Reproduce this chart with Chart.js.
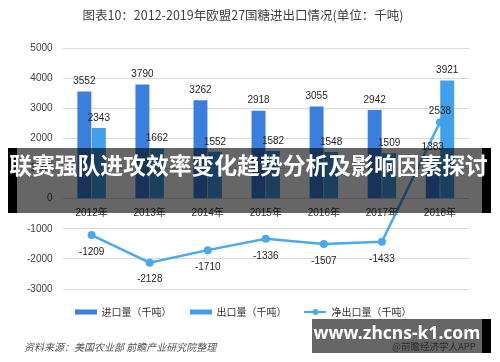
<!DOCTYPE html>
<html>
<head>
<meta charset="utf-8">
<script src="https://cdn.jsdelivr.net/npm/chart.js@4.4.0/dist/chart.umd.min.js"></script>
<style>
body { margin: 0; background: #fff; }
#wrap { position: relative; width: 500px; height: 362px; overflow: hidden; }
.src { position: absolute; left: 24px; top: 339px; font: italic 10px "Noto Sans CJK SC", sans-serif; color: #555; white-space: nowrap; }
.blk { position: absolute; background: #000; }
.dim { position: absolute; background: rgba(0, 0, 0, 0.6); }
.band-text { position: absolute; left: 0; top: 148px; width: 497px; height: 65px; line-height: 65px; text-align: center;
  font: bold 22.8px "Noto Sans CJK SC", sans-serif; color: #fff; white-space: nowrap; }
.badge-text { position: absolute; left: 312px; top: 320px; width: 170px; text-align: center; line-height: 28px;
  font: bold 17.5px "Noto Sans", sans-serif; color: #fff; white-space: nowrap; }
.app { position: absolute; left: 392px; top: 339px; font: 9.5px "Noto Sans CJK SC", sans-serif; color: #2a2a2a; white-space: nowrap; }
</style>
</head>
<body>
<div id="wrap">
  <canvas id="myChart" width="500" height="362"></canvas>
  <div class="src">资料来源：美国农业部 前瞻产业研究院整理</div>
  <div class="blk" style="left:8px;top:148px;width:9px;height:65px"></div>
  <div class="dim" style="left:17px;top:148px;width:465px;height:65px"></div>
  <div class="blk" style="left:482px;top:148px;width:9px;height:65px"></div>
  <div class="band-text">联赛强队进攻效率变化趋势分析及影响因素探讨</div>
  <div class="dim" style="left:312px;top:319px;width:170px;height:34px"></div>
  <div class="blk" style="left:482px;top:319px;width:9px;height:34px"></div>
  <div class="app">@前瞻经济学人APP</div>
  <div class="badge-text">www.zhcns-k1.com</div>
</div>
<script>
// data
const years = ['2012年', '2013年', '2014年', '2015年', '2016年', '2017年', '2018年'];
const imports = [3552, 3790, 3262, 2918, 3055, 2942, 1383];
const exportsVol = [2343, 1662, 1552, 1582, 1548, 1509, 3921];
const netExports = [-1209, -2128, -1710, -1336, -1507, -1433, 2538];
const yTicks = [-3000, -2000, -1000, 0, 1000, 2000, 3000, 4000, 5000];

const importColor = '#3b7fde';
const exportColor = '#41a0ec';
const lineColor = '#48a8f0';
const fontFamily = '"Liberation Sans", "Noto Sans CJK SC", sans-serif';

// small legend markers (bar swatch and line with dot)
function marker(kind, color) {
    const c = document.createElement('canvas');
    c.width = 22; c.height = 8;
    const g = c.getContext('2d');
    g.fillStyle = color;
    g.strokeStyle = color;
    if (kind === 'bar') {
        g.fillRect(0, 1.5, 22, 5);
    } else {
        g.lineWidth = 2;
        g.beginPath();
        g.moveTo(0, 4);
        g.lineTo(22, 4);
        g.stroke();
        g.beginPath();
        g.arc(11, 4, 3, 0, Math.PI * 2);
        g.fill();
    }
    return c;
}

// draws values above bars and next to line points
const valueLabels = {
    id: 'valueLabels',
    afterDatasetsDraw(chart) {
        const ctx = chart.ctx;
        ctx.save();
        ctx.font = '10px ' + fontFamily;
        ctx.fillStyle = '#262626';
        ctx.textAlign = 'center';
        ctx.textBaseline = 'middle';
        chart.data.datasets.forEach((ds, i) => {
            const meta = chart.getDatasetMeta(i);
            meta.data.forEach((el, j) => {
                const v = ds.data[j];
                let y;
                if (ds.type === 'line') {
                    y = v < 0 ? el.y + 17 : el.y - 11;
                } else {
                    y = el.y - 10;
                }
                ctx.fillText(String(v), el.x, y);
            });
        });
        ctx.restore();
    }
};

const ctx = document.getElementById('myChart').getContext('2d');

new Chart(ctx, {
    type: 'bar',
    data: {
        labels: years,
        datasets: [
            {
                label: '进口量（千吨）',
                data: imports,
                backgroundColor: importColor,
                categoryPercentage: 0.5,
                barPercentage: 0.96,
                pointStyle: marker('bar', importColor)
            },
            {
                label: '出口量（千吨）',
                data: exportsVol,
                backgroundColor: exportColor,
                categoryPercentage: 0.5,
                barPercentage: 0.96,
                pointStyle: marker('bar', exportColor)
            },
            {
                type: 'line',
                label: '净出口量（千吨）',
                data: netExports,
                borderColor: lineColor,
                backgroundColor: lineColor,
                borderWidth: 2.5,
                pointRadius: 4,
                pointBackgroundColor: lineColor,
                pointBorderWidth: 0,
                tension: 0,
                pointStyle: 'circle'
            }
        ]
    },
    plugins: [valueLabels],
    options: {
        responsive: false,
        animation: false,
        layout: {
            padding: { left: 17, right: 31, top: 0, bottom: 35 }
        },
        plugins: {
            title: {
                display: true,
                text: '图表10：2012-2019年欧盟27国糖进出口情况(单位：千吨)',
                color: '#404040',
                font: { family: '"Noto Sans CJK SC", sans-serif', size: 12.5, weight: 'normal' },
                padding: { top: 8, bottom: 25 }
            },
            legend: {
                position: 'bottom',
                labels: {
                    usePointStyle: true,
                    pointStyleWidth: 22,
                    padding: 18,
                    color: '#333',
                    font: { family: '"Noto Sans CJK SC", sans-serif', size: 10 },
                    generateLabels(chart) {
                        return chart.data.datasets.map((ds, i) => ({
                            text: ds.label,
                            datasetIndex: i,
                            pointStyle: i === 2 ? marker('line', lineColor) : ds.pointStyle,
                            fillStyle: ds.backgroundColor,
                            strokeStyle: ds.backgroundColor,
                            lineWidth: 0,
                            fontColor: '#333'
                        }));
                    }
                }
            },
            tooltip: { enabled: false }
        },
        scales: {
            y: {
                min: -3000,
                max: 5000,
                afterBuildTicks(axis) {
                    axis.ticks = yTicks.map(v => ({ value: v }));
                },
                grid: { color: '#d9d9d9', lineWidth: 1, drawTicks: false },
                border: { display: false },
                ticks: {
                    padding: 10,
                    color: '#404040',
                    font: { family: fontFamily, size: 10 },
                    callback: value => String(value)
                }
            },
            x: {
                position: { y: 0 },
                grid: { display: false, drawTicks: false },
                border: { display: false },
                ticks: {
                    padding: 9,
                    color: '#333',
                    maxRotation: 0,
                    font: { family: fontFamily, size: 10 }
                }
            }
        }
    }
});
</script>
</body>
</html>
